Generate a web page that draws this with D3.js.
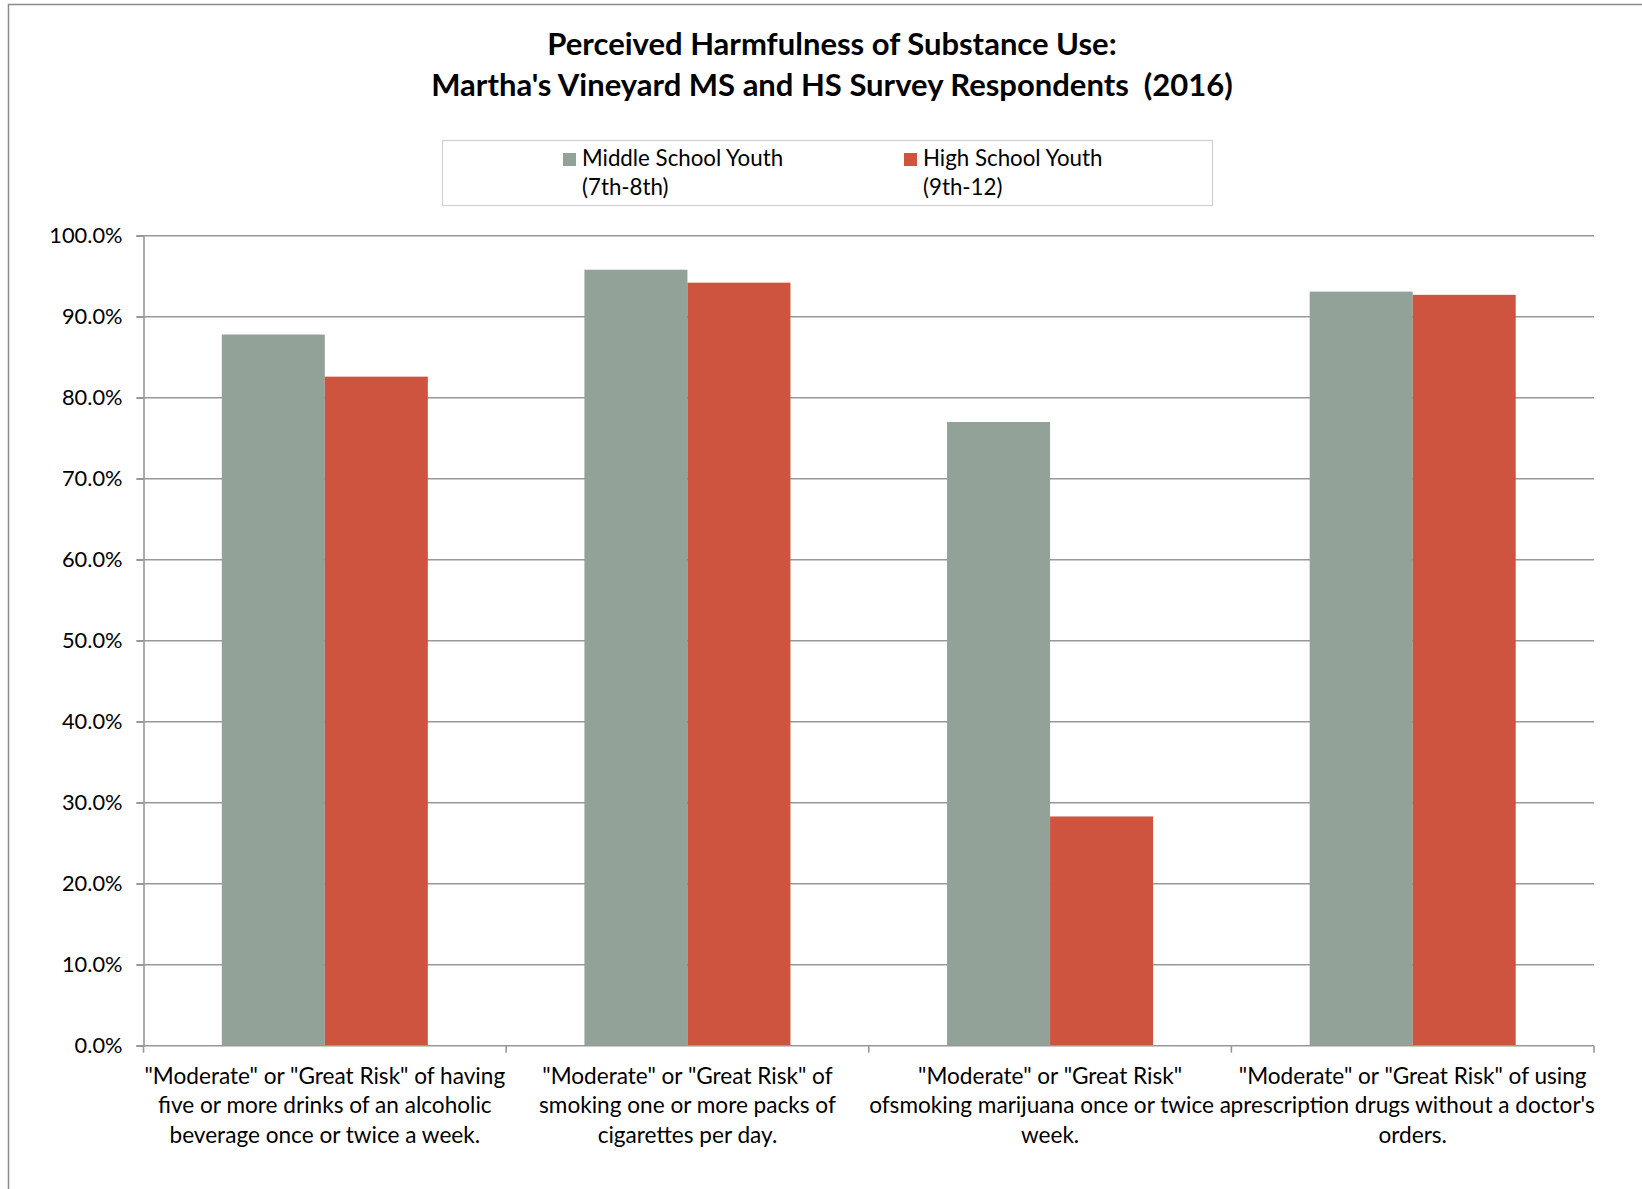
<!DOCTYPE html>
<html><head><meta charset="utf-8">
<script src="https://cdn.jsdelivr.net/npm/d3@7"></script>
<style>body{margin:0;background:#fff}svg{display:block}text{font-family:Lato,"Open Sans",sans-serif;fill:#000;white-space:pre}</style>
</head><body>
<svg id="c" width="1642" height="1189"></svg>
<script>
const titleLines = ["Perceived Harmfulness of Substance Use:", "Martha's Vineyard MS and HS Survey Respondents  (2016)"];
const categories = [
  ["\"Moderate\" or \"Great Risk\" of having", "five or more drinks of an alcoholic", "beverage once or twice a week."],
  ["\"Moderate\" or \"Great Risk\" of", "smoking one or more packs of", "cigarettes per day."],
  ["\"Moderate\" or \"Great Risk\"", "ofsmoking marijuana once or twice a", "week."],
  ["\"Moderate\" or \"Great Risk\" of using", "prescription drugs without a doctor's", "orders."]
];
const seriesNames = [["Middle School Youth", "(7th-8th)"], ["High School Youth", "(9th-12)"]];
const middleSchool = [87.8, 95.8, 77.0, 93.1];
const highSchool = [82.6, 94.2, 28.3, 92.7];
const yTicks = [0, 10, 20, 30, 40, 50, 60, 70, 80, 90, 100];
const colors = ["#93A299", "#CF543F"];

const svg = d3.select("#c");
svg.append("path").attr("d", "M8.5,1189 L8.5,4.5 L1642,4.5").attr("fill", "none").attr("stroke", "#8c8c8c").attr("stroke-width", 1.5);

const L = 143.5, R = 1594, T = 235.7, B = 1045.7;
const x0 = d3.scaleBand().domain(d3.range(categories.length)).range([L, R]).paddingInner(0).paddingOuter(0);
const x1 = d3.scaleBand().domain([0, 1]).range([0, x0.bandwidth()]).paddingInner(0).paddingOuter(0.76);
const y = d3.scaleLinear().domain([0, 100]).range([B, T]);

svg.append("g").selectAll("line").data(yTicks.filter(d => d > 0)).join("line")
  .attr("x1", L - 7).attr("x2", R).attr("y1", d => y(d)).attr("y2", d => y(d))
  .attr("stroke", "#989898").attr("stroke-width", 1.6);

const yAxis = d3.axisLeft(y).tickValues(yTicks).tickFormat(d => d.toFixed(1) + "%").tickSize(7).tickPadding(14);
const gy = svg.append("g").attr("transform", `translate(${L},0)`).call(yAxis);
gy.select(".domain").attr("stroke", "#989898").attr("stroke-width", 1.6);
gy.selectAll(".tick line").attr("stroke", "#989898").attr("stroke-width", 1.6);
gy.selectAll(".tick text").style("font-size", "21.8px").style("font-family", "Lato,'Open Sans',sans-serif").attr("fill", "#000");

const data = [middleSchool, highSchool];
data.forEach((vals, si) => {
  svg.append("g").selectAll("rect").data(vals).join("rect")
    .attr("x", (d, i) => x0(i) + x1(si))
    .attr("width", x1.bandwidth())
    .attr("y", d => y(d))
    .attr("height", d => B - y(d))
    .attr("fill", colors[si]);
});

svg.append("line").attr("x1", L - 7).attr("x2", R).attr("y1", B).attr("y2", B).attr("stroke", "#989898").attr("stroke-width", 1.6);
const bounds = d3.range(categories.length + 1).map(i => i < categories.length ? x0(i) : R);
svg.append("g").selectAll("line").data(bounds).join("line")
  .attr("x1", d => d).attr("x2", d => d).attr("y1", B).attr("y2", B + 7)
  .attr("stroke", "#989898").attr("stroke-width", 1.6);

const lab = svg.append("g").selectAll("text").data(categories).join("text")
  .attr("text-anchor", "middle").style("font-size", "22.6px")
  .attr("transform", (d, i) => `translate(${x0(i) + x0.bandwidth() / 2},${B})`);
lab.selectAll("tspan").data(d => d).join("tspan")
  .attr("x", 0).attr("y", (d, j) => 38 + j * 29.5).text(d => d);

svg.append("g").selectAll("text").data(titleLines).join("text")
  .attr("x", 832).attr("y", (d, i) => 55 + i * 40.5)
  .attr("text-anchor", "middle").style("font-size", "31px").style("font-weight", "bold").text(d => d);

svg.append("rect").attr("x", 442.5).attr("y", 140.5).attr("width", 770).attr("height", 65)
  .attr("fill", "#fff").attr("stroke", "#d0d0d0").attr("stroke-width", 1.2);
const legX = [563, 904];
const lg = svg.append("g").selectAll("g").data(seriesNames).join("g")
  .attr("transform", (d, i) => `translate(${legX[i]},0)`);
lg.append("rect").attr("x", 0).attr("y", 153).attr("width", 13).attr("height", 13).attr("fill", (d, i) => colors[i]);
lg.append("text").style("font-size", "22.3px").selectAll("tspan").data(d => d).join("tspan")
  .attr("x", 19).attr("y", (d, j) => 166 + j * 29).text(d => d);
</script>
</body></html>
